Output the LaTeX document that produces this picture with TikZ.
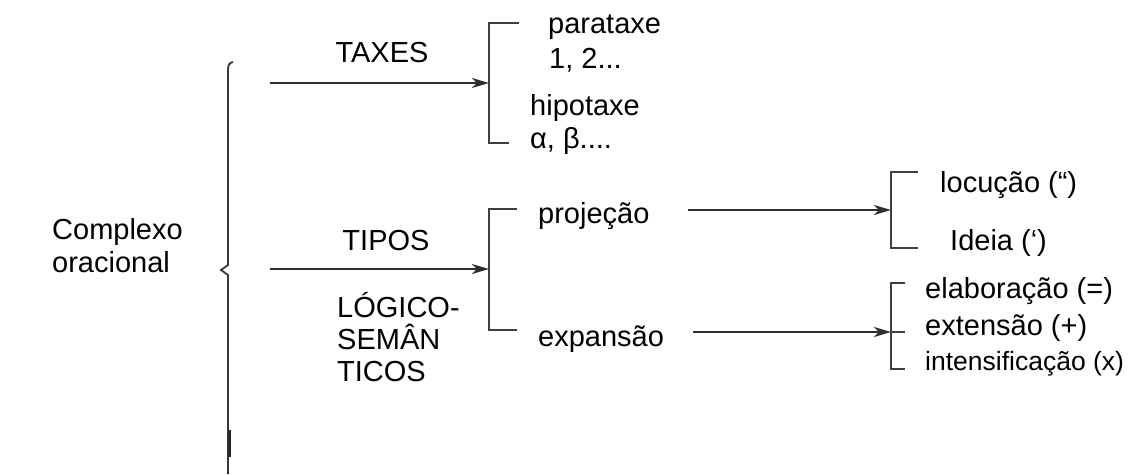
\documentclass[tikz,border=0pt]{standalone}
\usepackage{fontspec}
\setmainfont{Liberation Sans}
\usetikzlibrary{arrows.meta}
\begin{document}
\begin{tikzpicture}[x=1pt,y=-1pt,
  lbl/.style={anchor=base west, inner sep=0pt, font=\fontsize{29}{33}\selectfont, text=black},
  lblc/.style={anchor=base, inner sep=0pt, font=\fontsize{29}{33}\selectfont, text=black},
  small/.style={lbl, font=\fontsize{26.5}{30}\selectfont},
  arr/.style={draw=black!82, line width=1.6pt, -{Stealth[length=17pt,width=10pt,inset=5pt]}},
  brk/.style={draw=black!75, line width=1.9pt},
  brace/.style={draw=black!78, line width=1.8pt},
]
\useasboundingbox (0,0) rectangle (1129,474);

% texts
\node[lbl] (c1) at (52,239) {Complexo};
\node[lbl] (c2) at (52,272) {oracional};
\node[lblc] (taxes) at (382,62) {TAXES};
\node[lblc] (tipos) at (386,250) {TIPOS};
\node[lbl] (ls1) at (337,317) {LÓGICO-};
\node[lbl] (ls2) at (337,349) {SEMÂN};
\node[lbl] (ls3) at (337,381) {TICOS};
\node[lbl] (para) at (548,33) {parataxe};
\node[lbl] (p12) at (549,68) {1, 2...};
\node[lbl] (hipo) at (530,115) {hipotaxe};
\node[lbl] (ab) at (530,148) {α, β....};
\node[lbl] (proj) at (538,223) {projeção};
\node[lbl] (expa) at (538,346) {expansão};
\node[lbl] (locu) at (940,192) {locução (“)};
\node[lbl] (idei) at (950,250) {Ideia (‘)};
\node[lbl] (elab) at (925,298) {elaboração (=)};
\node[lbl] (exte) at (925,335) {extensão (+)};
\node[small] (inte) at (925,370) {intensificação (x)};

% big brace
\draw[brace] (233,62) .. controls (229,63) and (228,65) .. (228,70)
  -- (228,265) -- (221,270) -- (228,275) -- (228,474);
\draw[draw=black!85, line width=3pt] (229.5,430) -- (229.5,457);

% coordinates
\coordinate (s1) at (270,83);
\coordinate (b1) at (489,83);
\coordinate (s2) at (270,269);
\coordinate (b2) at (489,269);
\coordinate (s3) at (688,210);
\coordinate (b3) at (891,210);
\coordinate (s4) at (693,332);
\coordinate (b4) at (891,332);
\coordinate (b4r) at (905,332);

% brackets
\draw[brk] (519,23) -- (489,23) -- (489,143) -- (509,143);
\draw[brk] (517,209) -- (489,209) -- (489,330) -- (517,330);
\draw[brk] (918,172) -- (891,172) -- (891,248) -- (918,248);
\draw[brk] (905,283) -- (891,283) -- (891,369) -- (905,369);
\draw[brk] (b4) -- (b4r);

% arrows
\draw[arr] (s1) -- (b1);
\draw[arr] (s2) -- (b2);
\draw[arr] (s3) -- (b3);
\draw[arr] (s4) -- (b4);
\end{tikzpicture}
\end{document}
